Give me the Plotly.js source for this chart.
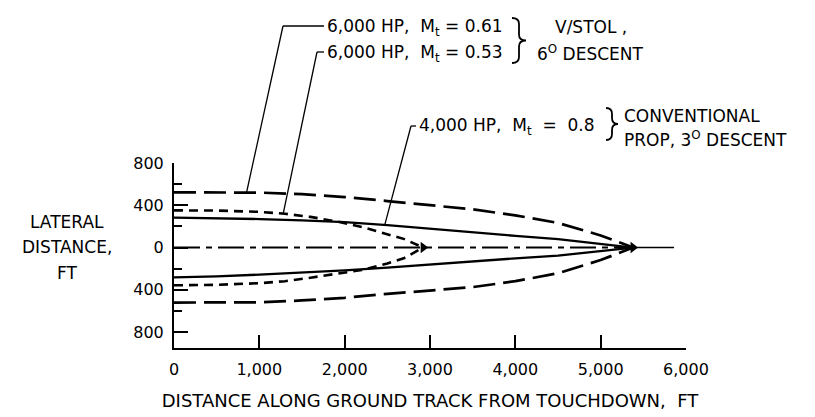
<!DOCTYPE html>
<html>
<head>
<meta charset="utf-8">
<script src="https://cdn.plot.ly/plotly-3.0.1.min.js"></script>
<style>html,body{margin:0;padding:0;background:#fff;}#chart{width:815px;height:417px;}</style>
</head>
<body>
<div id="chart"></div>
<script>
// ---- data ----
// 6,000 HP, Mt = 0.61 (long dash)
const longX  = [0, 500, 1000, 1500, 2000, 2500, 3000, 3500, 4000, 4500, 5000, 5380];
const longUp = [522, 522, 520, 505, 478, 440, 400, 362, 305, 233, 115, 0];
const longLo = [-520, -520, -518, -500, -475, -438, -405, -374, -318, -243, -118, 0];
// 6,000 HP, Mt = 0.53 (short dash)
const shortX  = [0, 500, 1000, 1300, 1600, 1900, 2200, 2500, 2700, 2920];
const shortUp = [352, 350, 338, 320, 290, 248, 195, 130, 80, 0];
const shortLo = [-357, -352, -337, -318, -285, -252, -212, -150, -98, 0];
// 4,000 HP, Mt = 0.8 (solid)
const solidX  = [0, 500, 1000, 1500, 2000, 2500, 3000, 3500, 4000, 4500, 5000, 5380];
const solidUp = [283, 278, 270, 258, 241, 213, 177, 144, 111, 80, 38, 0];
const solidLo = [-281, -272, -256, -237, -215, -189, -158, -130, -102, -76, -36, 0];
// ground-track centre line
const centerX = [0, 5380];
const centerY = [0, 0];
const tailX = [5380, 5860];
const tailY = [0, 0];
// tick labels
const xTicks = [0, 1000, 2000, 3000, 4000, 5000, 6000];
const yTickVals = [-800, -400, 0, 400, 800];
const yTickText = ['800', '400', '0', '400', '800'];
// leader-line anchor points on the curves (ft)
const leaderX = [850, 1280, 2470];

// ---- layout geometry ----
const W = 815, H = 417;
const M = {l: 174, r: 129, t: 163, b: 69};
const PW = W - M.l - M.r, PH = H - M.t - M.b;
const XR = [0, 6000], YR = [-950, 800];
const FONT = 'DejaVu Sans, Verdana, sans-serif';

function interp(xs, ys, x) {
  for (let i = 0; i < xs.length - 1; i++) {
    if (x >= xs[i] && x <= xs[i + 1]) {
      const t = (x - xs[i]) / (xs[i + 1] - xs[i]);
      return ys[i] + t * (ys[i + 1] - ys[i]);
    }
  }
  return ys[ys.length - 1];
}
const pxToX = px => XR[0] + (px - M.l) / PW * (XR[1] - XR[0]);
const pxToPx = px => (px - M.l) / PW;
const pyToPaper = py => (H - M.b - py) / PH;
const yToPaper = y => (y - YR[0]) / (YR[1] - YR[0]);

const blk = '#000';
const traces = [
  {x: longX, y: longUp, mode: 'lines', line: {color: blk, width: 2.7, dash: '22px,8px'}},
  {x: longX, y: longLo, mode: 'lines', line: {color: blk, width: 2.7, dash: '22px,8px'}},
  {x: shortX, y: shortUp, mode: 'lines', line: {color: blk, width: 2.6, dash: '9px,6px'}},
  {x: shortX, y: shortLo, mode: 'lines', line: {color: blk, width: 2.6, dash: '9px,6px'}},
  {x: solidX, y: solidUp, mode: 'lines', line: {color: blk, width: 2.3}},
  {x: solidX, y: solidLo, mode: 'lines', line: {color: blk, width: 2.3}},
  {x: centerX, y: centerY, mode: 'lines', line: {color: blk, width: 2, dash: '26px,6px,6px,6px'}},
  {x: tailX, y: tailY, mode: 'lines', line: {color: blk, width: 1.5}},
  {x: [shortX[shortX.length - 1], longX[longX.length - 1]], y: [0, 0], mode: 'markers',
   marker: {symbol: 'triangle-right', size: 10, color: blk}, cliponaxis: false}
];

// leader lines: diagonal from curve to bend, then short horizontal to the label
function leader(xData, yData, bendPx, bendPy, endPx) {
  return [
    {type: 'line', xref: 'x', yref: 'paper', x0: xData, y0: yToPaper(yData),
     x1: pxToX(bendPx), y1: pyToPaper(bendPy), line: {color: blk, width: 1.3}},
    {type: 'line', xref: 'x', yref: 'paper', x0: pxToX(bendPx), y0: pyToPaper(bendPy),
     x1: pxToX(endPx), y1: pyToPaper(bendPy), line: {color: blk, width: 1.3}}
  ];
}
function brace(px, pyTop, pyBot, w) {
  const r = 6, mid = (pyTop + pyBot) / 2, xm = px + w * 0.5, xt = px + w;
  const X = v => pxToPx(v), Y = v => pyToPaper(v);
  const d = `M ${X(px)} ${Y(pyTop)} Q ${X(xm)} ${Y(pyTop)} ${X(xm)} ${Y(pyTop + r)} ` +
            `L ${X(xm)} ${Y(mid - r)} Q ${X(xm)} ${Y(mid)} ${X(xt)} ${Y(mid)} ` +
            `Q ${X(xm)} ${Y(mid)} ${X(xm)} ${Y(mid + r)} L ${X(xm)} ${Y(pyBot - r)} ` +
            `Q ${X(xm)} ${Y(pyBot)} ${X(px)} ${Y(pyBot)}`;
  return {type: 'path', xref: 'paper', yref: 'paper', path: d, line: {color: blk, width: 1.8}};
}
const shapes = [
  ...leader(leaderX[0], interp(longX, longUp, leaderX[0]), 283, 26, 324),
  ...leader(leaderX[1], interp(shortX, shortUp, leaderX[1]), 317, 52, 324),
  ...leader(leaderX[2], interp(solidX, solidUp, leaderX[2]), 411, 126, 416),
  brace(512, 18, 63, 14),
  brace(606, 108, 140, 12)
];

function txt(text, px, py, size, xanchor) {
  return {text: text, xref: 'paper', yref: 'paper', x: pxToPx(px), y: pyToPaper(py),
          xanchor: xanchor || 'left', yanchor: 'middle', showarrow: false, align: 'center',
          font: {family: FONT, size: size || 17, color: blk}};
}
const annotations = [
  txt('6,000 HP,  M<sub>t</sub> = 0.61', 325, 27),
  txt('6,000 HP,  M<sub>t</sub> = 0.53', 325, 53),
  txt('V/STOL ,', 553, 27),
  txt('6<sup>O</sup> DESCENT', 535, 53),
  txt('4,000 HP,  M<sub>t</sub>  =  0.8', 417, 126),
  txt('CONVENTIONAL', 622, 116),
  txt('PROP, 3<sup>O</sup> DESCENT', 622, 139),
  txt('LATERAL', 67, 222, 17, 'center'),
  txt('DISTANCE,', 67, 247, 17, 'center'),
  txt('FT', 67, 273, 17, 'center')
];

const layout = {
  width: W, height: H, margin: M, showlegend: false,
  paper_bgcolor: '#fff', plot_bgcolor: '#fff',
  font: {family: FONT, size: 16, color: blk},
  xaxis: {
    range: XR, tickvals: xTicks, tickformat: ',d', ticks: 'inside', ticklen: 13, tickwidth: 2,
    tickcolor: blk, showline: true, linewidth: 2, linecolor: blk, showgrid: false, zeroline: false,
    ticklabelstandoff: 6, tickfont: {family: FONT, size: 16},
    title: {text: 'DISTANCE ALONG GROUND TRACK FROM TOUCHDOWN,  FT', font: {family: FONT, size: 18}, standoff: 16}
  },
  yaxis: {
    range: YR, tickmode: 'array', tickvals: yTickVals, ticktext: yTickText, ticks: 'inside',
    ticklen: 14, tickwidth: 2, tickcolor: blk, showline: true, linewidth: 2, linecolor: blk,
    showgrid: false, zeroline: false, ticklabelstandoff: 5, tickfont: {family: FONT, size: 16},
    minor: {tickmode: 'linear', tick0: 0, dtick: 200, ticks: 'inside', ticklen: 8, tickwidth: 2, tickcolor: blk, showgrid: false}
  },
  shapes: shapes,
  annotations: annotations
};

Plotly.newPlot('chart', traces, layout, {displayModeBar: false, staticPlot: true});
</script>
</body>
</html>
